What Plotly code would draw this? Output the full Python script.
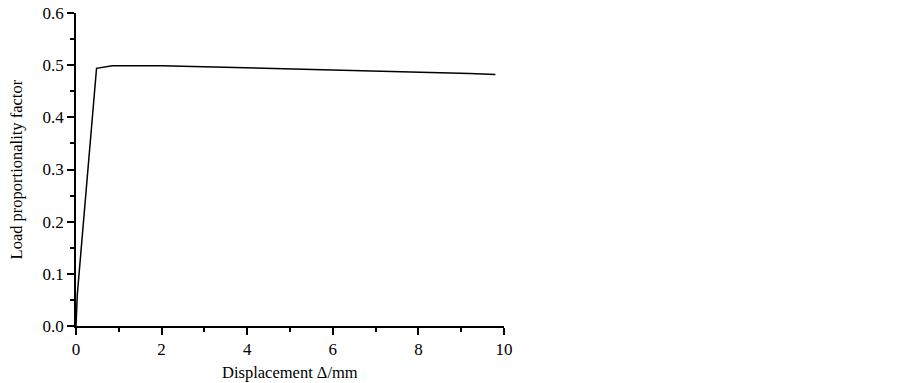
import plotly.graph_objects as go

disp = [0.0, 0.03, 0.48, 0.85, 2.0, 3.0, 4.0, 5.0, 6.0, 7.0, 8.0, 8.6, 9.2, 9.8]
lpf = [0.0, 0.06, 0.494, 0.499, 0.499, 0.497, 0.495, 0.493, 0.491, 0.489, 0.487, 0.486, 0.484, 0.482]

x_ticks = [0, 2, 4, 6, 8, 10]
y_ticks = [0.0, 0.1, 0.2, 0.3, 0.4, 0.5, 0.6]

fig = go.Figure()
fig.add_trace(go.Scatter(x=disp, y=lpf, mode="lines",
                         line=dict(color="black", width=1.5), showlegend=False))

font = dict(family="Liberation Serif, Times New Roman, serif", color="black")
fig.update_layout(
    width=903, height=383,
    margin=dict(l=76, r=399, t=13, b=57, autoexpand=False),
    paper_bgcolor="white", plot_bgcolor="white",
    font=dict(**font, size=17),
)
fig.update_xaxes(
    range=[0, 10], tickvals=x_ticks, ticktext=[str(v) for v in x_ticks],
    automargin=False,
    showline=True, linecolor="black", linewidth=1.5, showgrid=False, zeroline=False,
    ticks="outside", ticklen=7, tickwidth=1.5, tickcolor="black",
    minor=dict(dtick=1, ticks="outside", ticklen=4, tickwidth=1.5, tickcolor="black"),
)
fig.update_yaxes(
    range=[0, 0.6], tickvals=y_ticks, ticktext=[f"{v:.1f}" for v in y_ticks],
    automargin=False,
    showline=True, linecolor="black", linewidth=1.5, showgrid=False, zeroline=False,
    ticks="outside", ticklen=7, tickwidth=1.5, tickcolor="black",
    minor=dict(dtick=0.05, ticks="outside", ticklen=4, tickwidth=1.5, tickcolor="black"),
)
fig.add_annotation(text="Displacement Δ/mm", xref="paper", yref="paper",
                   x=0.5, y=-0.149, yanchor="middle", xanchor="center",
                   showarrow=False, font=dict(size=16.5))
fig.add_annotation(text="Load proportionality factor", xref="paper", yref="paper",
                   x=-0.138, y=0.5, textangle=-90, xanchor="center", yanchor="middle",
                   showarrow=False, font=dict(size=16.5))
fig.write_html("out.html", config={"displayModeBar": False},
               post_script="document.body.style.margin='0px';document.body.style.overflow='hidden';")
